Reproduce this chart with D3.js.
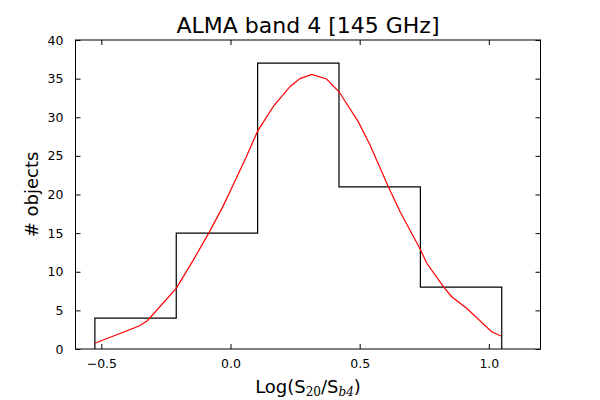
<!DOCTYPE html>
<html>
<head>
<meta charset="utf-8">
<script src="https://cdnjs.cloudflare.com/ajax/libs/d3/7.8.5/d3.min.js"></script>
<style>
  body { margin: 0; background: #fff; }
  text { font-family: 'DejaVu Sans', sans-serif; }
</style>
</head>
<body>
<div class="chart"></div>
<script>
// histogram bins (edges) and counts
var binEdges = [-0.525, -0.21, 0.105, 0.42, 0.735, 1.05]
var binCounts = [4, 15, 37, 21, 8]

// red fitted curve
var curveX = [-0.525, -0.354, -0.322, -0.21, -0.144, -0.086, -0.03, 0.011, 0.06, 0.105, 0.166, 0.23, 0.269, 0.314, 0.372, 0.42, 0.495, 0.54, 0.611, 0.656, 0.733, 0.76, 0.824, 0.856, 0.914, 1.011, 1.047]
var curveY = [0.74, 2.98, 3.66, 7.86, 11.5, 14.9, 18.4, 21.3, 24.8, 28.2, 31.4, 33.95, 35.0, 35.55, 34.95, 33.3, 29.4, 26.4, 21.0, 17.8, 13.0, 11.1, 8.07, 6.77, 5.27, 2.24, 1.68]

var xTicks = [-0.5, 0.0, 0.5, 1.0]
var yTicks = [0, 5, 10, 15, 20, 25, 30, 35, 40]

var svgWidth = 600
var svgHeight = 400

var margin = {
    top: 40,
    bottom: 51,
    right: 59.5,
    left: 75.5
}

var width = svgWidth - margin.left - margin.right
var height = svgHeight - margin.top - margin.bottom

var svg = d3
    .select('.chart')
    .append('svg')
    .attr('height', svgHeight)
    .attr('width', svgWidth)

var chartGroup = svg.append('g')
    .attr('transform', `translate(${margin.left}, ${margin.top})`)

var x = d3.scaleLinear().domain([-0.6, 1.2]).range([0, width])
var y = d3.scaleLinear().domain([0, 40]).range([height, 0])

// histogram as a step outline
var steps = []
binCounts.forEach((c, i) => {
    steps.push([binEdges[i], i == 0 ? 0 : binCounts[i - 1]])
    steps.push([binEdges[i], c])
})
steps.push([binEdges[binEdges.length - 1], binCounts[binCounts.length - 1]])
steps.push([binEdges[binEdges.length - 1], 0])

chartGroup.append('path')
    .datum(steps)
    .attr('fill', 'none')
    .attr('stroke', '#000')
    .attr('stroke-width', 1.2)
    .attr('d', d3.line().x(d => x(d[0])).y(d => y(d[1])))

// red curve
chartGroup.append('path')
    .datum(curveX.map((v, i) => [v, curveY[i]]))
    .attr('fill', 'none')
    .attr('stroke', '#ff0000')
    .attr('stroke-width', 1.2)
    .attr('d', d3.line().x(d => x(d[0])).y(d => y(d[1])))

// axes: ticks inside on all four sides
var tickFmt = d3.format('.1f')
chartGroup.append('g')
    .attr('transform', `translate(0, ${height})`)
    .call(d3.axisBottom(x).tickValues(xTicks).tickSizeInner(-5).tickSizeOuter(0)
        .tickPadding(10).tickFormat(d => tickFmt(d).replace('-', '\u2212')))
chartGroup.append('g')
    .call(d3.axisTop(x).tickValues(xTicks).tickSizeInner(-5).tickSizeOuter(0).tickFormat(''))
chartGroup.append('g')
    .call(d3.axisLeft(y).tickValues(yTicks).tickSizeInner(-5).tickSizeOuter(0).tickPadding(12))
chartGroup.append('g')
    .attr('transform', `translate(${width}, 0)`)
    .call(d3.axisRight(y).tickValues(yTicks).tickSizeInner(-5).tickSizeOuter(0).tickFormat(''))

chartGroup.selectAll('.domain').remove()
chartGroup.selectAll('.tick line').attr('stroke', '#000')
chartGroup.selectAll('.tick text')
    .attr('font-size', '12.5px')
    .attr('fill', '#000')
    .style('font-family', "'DejaVu Sans', sans-serif")

// frame
chartGroup.append('rect')
    .attr('width', width)
    .attr('height', height)
    .attr('fill', 'none')
    .attr('stroke', '#000')
    .attr('stroke-width', 1)

// title
svg.append('text')
    .attr('x', margin.left + width / 2)
    .attr('y', 33)
    .attr('text-anchor', 'middle')
    .attr('font-size', '22px')
    .text('ALMA band 4 [145 GHz]')

// x label with subscripts
var xl = svg.append('text')
    .attr('x', margin.left + width / 2)
    .attr('y', 393)
    .attr('text-anchor', 'middle')
    .attr('font-size', '18px')
xl.append('tspan').text('Log(S')
xl.append('tspan').attr('font-size', '12px').attr('dy', 3)
    .style('font-family', "'DejaVu Serif', serif").text('20')
xl.append('tspan').attr('dy', -3).text('/S')
xl.append('tspan').attr('font-size', '12px').attr('dy', 3)
    .style('font-family', "'DejaVu Serif', serif").attr('font-style', 'italic').text('b4')
xl.append('tspan').attr('dy', -3).text(')')

// y label
svg.append('text')
    .attr('transform', `translate(38, ${margin.top + height / 2}) rotate(-90)`)
    .attr('text-anchor', 'middle')
    .attr('font-size', '18px')
    .text('# objects')
</script>
</body>
</html>
